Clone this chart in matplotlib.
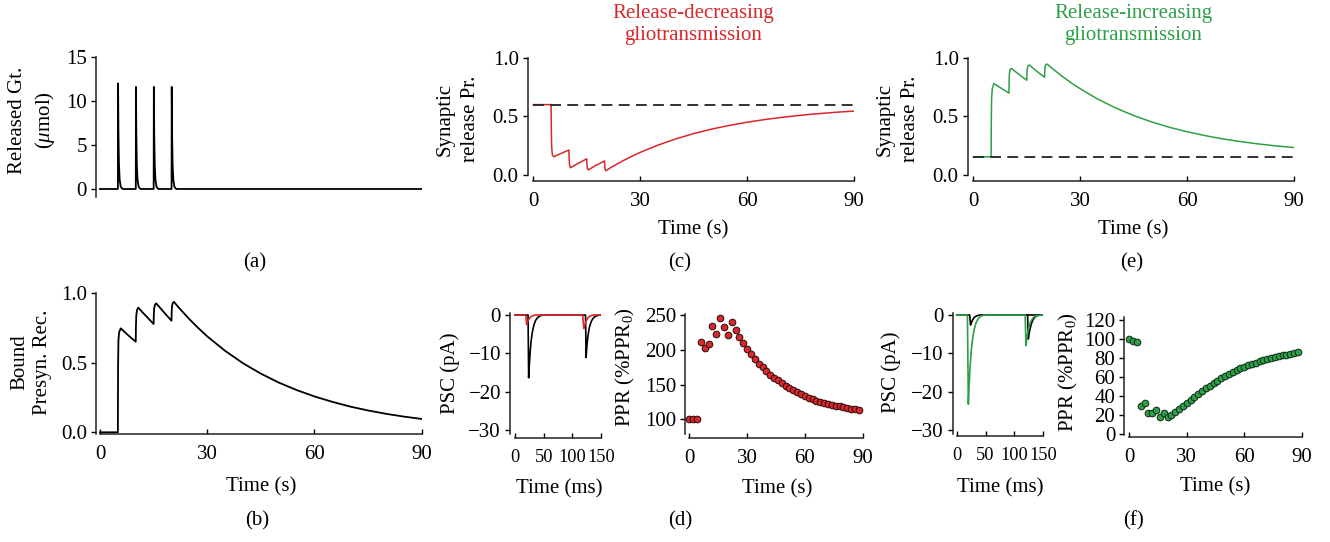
import matplotlib
matplotlib.use("Agg")
import matplotlib.pyplot as plt

plt.rcParams["font.family"] = ["Liberation Serif", "DejaVu Serif"]
plt.rcParams["mathtext.fontset"] = "custom"
plt.rcParams["mathtext.rm"] = "Liberation Serif"
plt.rcParams["mathtext.it"] = "Liberation Serif:italic"
plt.rcParams["font.size"] = 15

RED = "#d8282b"
GREEN = "#2e9f48"
SPINE = "#222222"

# ---- data ----
# (a) released gliotransmitter (umol)
gt_t = [0, 5.0, 5.05, 5.15, 5.3, 5.5, 5.8, 6.3,
        10.0, 10.05, 10.15, 10.3, 10.5, 10.8, 11.3,
        15.0, 15.05, 15.15, 15.3, 15.5, 15.8, 16.3,
        20.0, 20.05, 20.15, 20.3, 20.5, 20.8, 21.3, 90]
gt_v = [0, 0, 12.0, 6.5, 2.8, 1.0, 0.25, 0,
        0, 11.6, 6.3, 2.7, 1.0, 0.25, 0,
        0, 11.6, 6.3, 2.7, 1.0, 0.25, 0,
        0, 11.6, 6.3, 2.7, 1.0, 0.25, 0, 0]

# (b) bound presynaptic receptors
rec_t = [0, 5.0, 5.05, 5.15, 5.35, 5.8, 7.0, 8.5,
         10.0, 10.05, 10.15, 10.35, 10.7, 12.0, 13.5,
         15.0, 15.05, 15.15, 15.35, 15.7, 17.0, 18.5,
         20.0, 20.05, 20.15, 20.35, 20.7, 22.5, 25, 27.5, 30, 35, 40, 45,
         50, 55, 60, 65, 70, 75, 80, 85, 90]
rec_v = [0, 0, 0.45, 0.66, 0.72, 0.748, 0.719, 0.684,
         0.652, 0.76, 0.84, 0.88, 0.897, 0.86, 0.82,
         0.779, 0.84, 0.89, 0.915, 0.928, 0.89, 0.845,
         0.803, 0.86, 0.91, 0.93, 0.938, 0.884, 0.814, 0.75, 0.69, 0.586,
         0.497, 0.422, 0.358, 0.304, 0.258, 0.219, 0.185, 0.157, 0.133,
         0.113, 0.096]

# (c) release probability, release-decreasing
dec_t = [0, 5.0, 5.05, 5.15, 5.35, 5.8, 7.5,
         10.0, 10.05, 10.15, 10.4, 12.5,
         15.0, 15.05, 15.15, 15.4, 17.5,
         20.0, 20.05, 20.15, 20.4, 22, 25, 27.5, 30, 35, 40, 45, 50, 55,
         60, 65, 70, 75, 80, 85, 90]
dec_v = [0.6, 0.6, 0.42, 0.24, 0.17, 0.156, 0.18,
         0.213, 0.16, 0.09, 0.062, 0.098,
         0.138, 0.10, 0.06, 0.043, 0.081,
         0.12, 0.08, 0.05, 0.037, 0.068, 0.119, 0.157, 0.193, 0.255,
         0.308, 0.353, 0.391, 0.423, 0.45, 0.473, 0.492, 0.509, 0.523,
         0.535, 0.545]
dec_base = 0.6

# (e) release probability, release-increasing
inc_t = [0, 5.0, 5.05, 5.15, 5.35, 5.8, 7.5,
         10.0, 10.05, 10.15, 10.35, 10.7, 12.0, 13.5,
         15.0, 15.05, 15.15, 15.35, 15.7, 17.0, 18.5,
         20.0, 20.05, 20.15, 20.35, 20.7, 22.5, 25, 27.5, 30, 35, 40, 45,
         50, 55, 60, 65, 70, 75, 80, 85, 90]
inc_v = [0.155, 0.155, 0.45, 0.66, 0.74, 0.78, 0.746,
         0.698, 0.80, 0.87, 0.90, 0.909, 0.877, 0.842,
         0.808, 0.86, 0.91, 0.93, 0.938, 0.905, 0.868,
         0.833, 0.88, 0.925, 0.94, 0.946, 0.90, 0.84, 0.785, 0.735,
         0.646, 0.571, 0.507, 0.453, 0.407, 0.369, 0.336, 0.308, 0.285,
         0.265, 0.248, 0.234]
inc_base = 0.155

# (d) PSC traces (ms, pA)
psc_ctl_d_t = [0, 22.8, 23.8, 25, 26.5, 28, 30, 33, 36, 40, 45, 50,
               123.0, 124.0, 125, 126.5, 128, 130, 133, 136, 140, 145, 150]
psc_ctl_d_v = [0, 0, -16.4, -13.0, -9.6, -7.0, -4.7, -2.6, -1.4, -0.6, -0.15, 0,
               0, -11.1, -8.8, -6.4, -4.7, -3.1, -1.7, -0.9, -0.35, -0.1, 0]
psc_dec_t = [0, 18.8, 20.3, 21.5, 23, 25, 28, 32, 36,
             118.0, 120.0, 121.5, 123, 125, 128, 132, 136, 150]
psc_dec_v = [0, 0, -2.5, -2.0, -1.4, -0.9, -0.45, -0.15, 0,
             0, -3.5, -2.8, -2.0, -1.3, -0.6, -0.2, 0, 0]

# (f) PSC traces (ms, pA)
psc_ctl_f_t = [0, 22.5, 24.0, 25.5, 27.5, 30, 34, 40, 150]
psc_ctl_f_v = [0, 0, -2.6, -2.0, -1.3, -0.7, -0.25, 0, 0]
psc_ctl_f2_t = [122.8, 124.0, 125.5, 127.5, 130, 133, 137, 142, 150]
psc_ctl_f2_v = [0, -6.3, -4.8, -3.3, -2.0, -1.0, -0.35, -0.05, 0]
psc_inc_t = [0, 18.6, 20.2, 21.5, 23, 25, 27.5, 30, 33, 37, 42, 48,
             118.6, 120.0, 121.5, 123, 125, 128, 132, 137, 150]
psc_inc_v = [0, 0, -23.3, -18.5, -14.0, -9.8, -6.3, -4.0, -2.3, -1.0, -0.3, 0,
             0, -8.0, -6.2, -4.6, -3.2, -1.8, -0.8, -0.2, 0]

# PPR time course (s, %PPR0)
ppr_t = [0, 2, 4, 6, 8, 10, 12, 14, 16, 18, 20, 22, 24, 26, 28, 30, 32, 34,
         36, 38, 40, 42, 44, 46, 48, 50, 52, 54, 56, 58, 60, 62, 64, 66, 68,
         70, 72, 74, 76, 78, 80, 82, 84, 86, 88]
ppr_dec = [100, 100, 100, 211, 203, 209, 234, 223, 246, 233, 221, 240, 229,
           219, 210, 201, 194, 187, 180, 175, 169, 164, 160, 156, 152, 148.6,
           145, 142, 139, 136, 133.7, 131, 129, 127, 125.5, 124, 122.6, 121,
           119.7, 118.7, 117.3, 116.3, 115.4, 114.4, 113.5]
ppr_inc = [99.5, 97.7, 97, 29, 32.7, 22, 21.6, 25.7, 18, 21.6, 18, 19.5, 23,
           26, 29.6, 33, 36, 39.3, 42.4, 45.6, 48.3, 51, 53.6, 56.3, 58.8, 61,
           63.3, 65.4, 67, 69, 70.6, 72.3, 73.7, 75, 76.5, 77.6, 79, 80, 81,
           82, 82.8, 83.5, 84.5, 85.2, 86]

W, H = 1330, 542
fig = plt.figure(figsize=(W / 100, H / 100), dpi=100)


def px_axes(left, right, top, bottom):
    return fig.add_axes([left / W, 1 - bottom / H, (right - left) / W,
                         (bottom - top) / H])


def style(ax, xlim, ylim, ybounds, xbounds=None):
    ax.set_xlim(*xlim)
    ax.set_ylim(*ylim)
    ax.patch.set_visible(False)
    for s in ["top", "right"]:
        ax.spines[s].set_visible(False)
    ax.spines["left"].set_bounds(*ybounds)
    ax.spines["left"].set_color(SPINE)
    ax.spines["left"].set_linewidth(1.1)
    if xbounds is None:
        ax.spines["bottom"].set_visible(False)
        ax.tick_params(axis="x", bottom=False, labelbottom=False)
    else:
        ax.spines["bottom"].set_bounds(*xbounds)
        ax.spines["bottom"].set_color(SPINE)
        ax.spines["bottom"].set_linewidth(1.1)
    ax.tick_params(axis="y", direction="out", length=3.5, width=1.0,
                   pad=3, colors="black")
    ax.tick_params(axis="x", direction="in", length=3.5, width=1.0,
                   pad=8, colors="black")


def ylab(ax, text, x, y, ls=1.45):
    ax.set_ylabel(text, va="center", ha="center", linespacing=ls)
    ax.yaxis.set_label_coords(x / W, 1 - y / H, transform=fig.transFigure)


def xlab(ax, text, x, y):
    ax.set_xlabel(text, va="center", ha="center")
    ax.xaxis.set_label_coords(x / W, 1 - y / H, transform=fig.transFigure)


# (a)
ax = px_axes(96, 422, 57, 197)
ax.plot(gt_t, gt_v, color="black", lw=1.3)
style(ax, (-1.12, 90), (-0.91, 15), (-0.91, 15))
ax.set_yticks([0, 5, 10, 15])
ylab(ax, "Released Gt.\n($\\mathit{\\mu}$mol)", 32.5, 120, ls=1.35)

# (b)
ax = px_axes(96, 421.7, 293.3, 434.3)
ax.plot(rec_t, rec_v, color="black", lw=1.3)
style(ax, (-1.12, 90), (-0.0144, 1.0), (-0.0144, 1.0), (0, 90))
ax.set_xticks([0, 30, 60, 90])
ax.set_yticks([0, 0.5, 1.0], ["0.0", "0.5", "1.0"])
ylab(ax, "Bound\nPresyn. Rec.", 30.8, 362, ls=1.25)
xlab(ax, "Time (s)", 261, 487)

# (c)
ax = px_axes(527.7, 854, 57.7, 181)
ax.plot(dec_t, dec_v, color=RED, lw=1.1)
ax.hlines(dec_base, dec_t[0], dec_t[-1], color="#222222", lw=1.3,
          linestyles=(0, (6, 3.5)))
style(ax, (-1.57, 90), (-0.051, 1.0), (0, 1.0), (0, 90))
ax.set_xticks([0, 30, 60, 90])
ax.set_yticks([0, 0.5, 1.0], ["0.0", "0.5", "1.0"])
ylab(ax, "Synaptic\nrelease Pr.", 458, 119)
xlab(ax, "Time (s)", 693, 230)

# (e)
ax = px_axes(967.7, 1294, 57.7, 181)
ax.plot(inc_t, inc_v, color=GREEN, lw=1.1)
ax.hlines(inc_base, inc_t[0], inc_t[-1], color="#222222", lw=1.3,
          linestyles=(0, (6, 3.5)))
style(ax, (-1.57, 90), (-0.051, 1.0), (0, 1.0), (0, 90))
ax.set_xticks([0, 30, 60, 90])
ax.set_yticks([0, 0.5, 1.0], ["0.0", "0.5", "1.0"])
ylab(ax, "Synaptic\nrelease Pr.", 898, 119)
xlab(ax, "Time (s)", 1133, 230)

# (d) PSC
ax = px_axes(510, 601, 313.3, 438)
ax.plot(psc_ctl_d_t, psc_ctl_d_v, color="black", lw=1.2)
ax.plot(psc_dec_t, psc_dec_v, color=RED, lw=1.2)
style(ax, (-8.7, 150), (-32.1, 0.44), (-31, 0.44), (0, 150))
ax.set_xticks([0, 50, 100, 150])
ax.tick_params(axis="x", labelsize=13.2)
ax.set_yticks([0, -10, -20, -30])
ylab(ax, "PSC (pA)", 450, 373)
xlab(ax, "Time (ms)", 559, 489)

# (d) PPR
ax = px_axes(685, 862.7, 314.3, 438)
ax.plot(ppr_t, ppr_dec, "o", ms=4.8, mfc=RED, mec="#2a0a0a", mew=0.7,
        clip_on=False)
style(ax, (-2.23, 90), (73.1, 251), (79, 251), (0, 90))
ax.set_xticks([0, 30, 60, 90])
ax.set_yticks([100, 150, 200, 250])
ylab(ax, "PPR (%PPR$_0$)", 625, 367.5)
xlab(ax, "Time (s)", 777, 489)

# (f) PSC
ax = px_axes(952.7, 1043.3, 313.3, 436)
ax.plot(psc_ctl_f_t, psc_ctl_f_v, color="black", lw=1.2)
ax.plot(psc_ctl_f2_t, psc_ctl_f2_v, color="black", lw=1.2)
ax.plot(psc_inc_t, psc_inc_v, color=GREEN, lw=1.2)
style(ax, (-6.9, 150), (-31.6, 0.44), (-31, 0.44), (0, 150))
ax.set_xticks([0, 50, 100, 150])
ax.tick_params(axis="x", labelsize=13.2)
ax.set_yticks([0, -10, -20, -30])
ylab(ax, "PSC (pA)", 891, 372)
xlab(ax, "Time (ms)", 1000, 488)

# (f) PPR
ax = px_axes(1124.3, 1301.7, 317.3, 436.5)
ax.plot(ppr_t, ppr_inc, "o", ms=4.8, mfc=GREEN, mec="#0c2a14", mew=0.7,
        clip_on=False)
style(ax, (-2.6, 90), (-2.6, 122.8), (-1, 122.8), (0, 90))
ax.set_xticks([0, 30, 60, 90])
ax.set_yticks([0, 20, 40, 60, 80, 100, 120])
ylab(ax, "PPR (%PPR$_0$)", 1068, 372)
xlab(ax, "Time (s)", 1215, 487)

# titles and panel letters
fig.text(693 / W, 1 - 24.5 / H, "Release-decreasing\ngliotransmission",
         color=RED, ha="center", va="center", linespacing=1.2)
fig.text(1133.5 / W, 1 - 24.5 / H, "Release-increasing\ngliotransmission",
         color=GREEN, ha="center", va="center", linespacing=1.2)
for letter, x, y in [("(a)", 255, 263), ("(c)", 680, 263), ("(e)", 1132, 263),
                     ("(b)", 257, 521), ("(d)", 680, 521), ("(f)", 1134, 521)]:
    fig.text(x / W, 1 - y / H, letter, ha="center", va="center")

fig.savefig("out.png", dpi=100)
